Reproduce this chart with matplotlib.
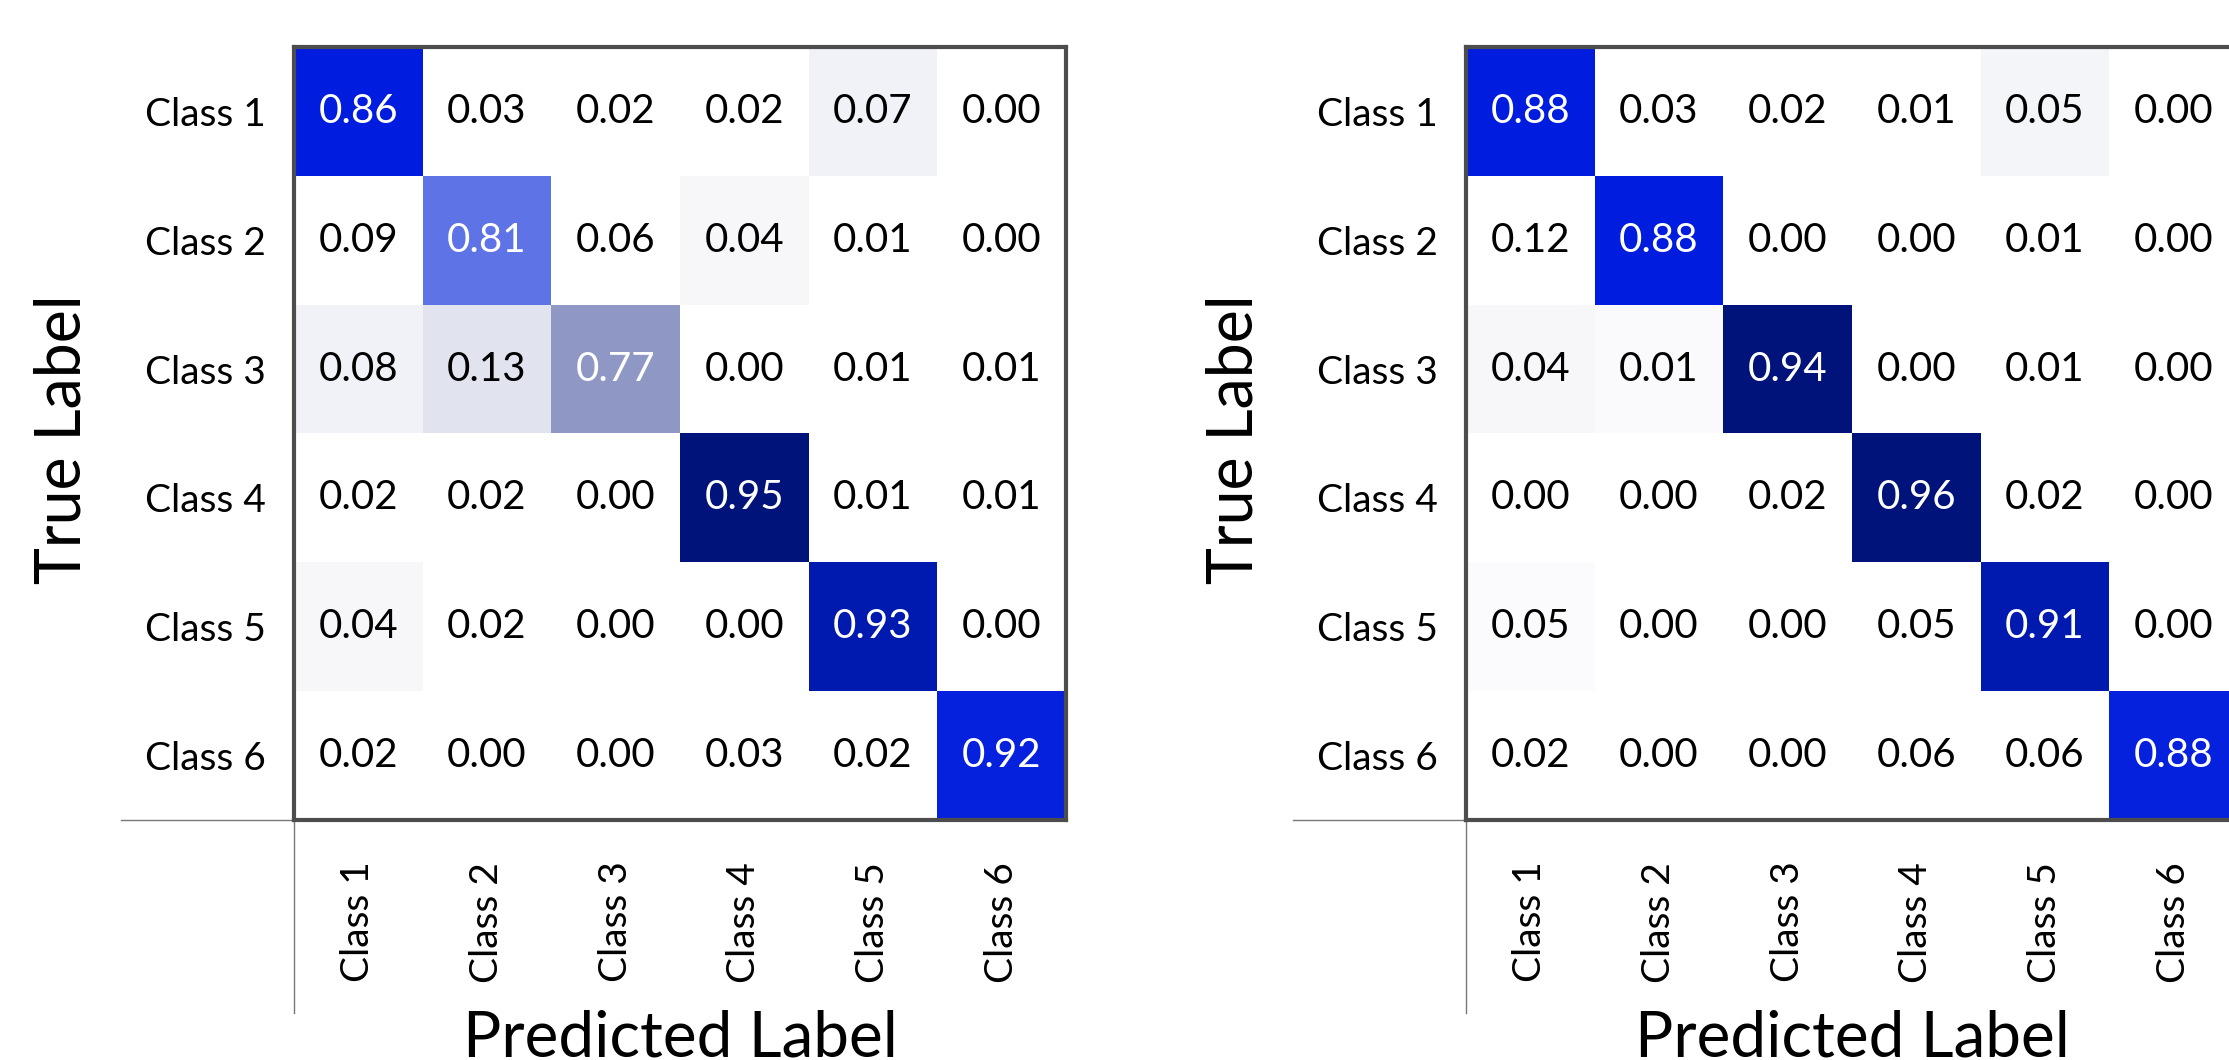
import matplotlib
matplotlib.use("Agg")
import matplotlib.pyplot as plt
from matplotlib.colors import LinearSegmentedColormap
import numpy as np

plt.rcParams["font.family"] = ["Lato", "DejaVu Sans"]

classes = ["Class 1", "Class 2", "Class 3", "Class 4", "Class 5", "Class 6"]

# normalized confusion matrices (rows = true, cols = predicted)
left_values = [
    [0.86, 0.03, 0.02, 0.02, 0.07, 0.00],
    [0.09, 0.81, 0.06, 0.04, 0.01, 0.00],
    [0.08, 0.13, 0.77, 0.00, 0.01, 0.01],
    [0.02, 0.02, 0.00, 0.95, 0.01, 0.01],
    [0.04, 0.02, 0.00, 0.00, 0.93, 0.00],
    [0.02, 0.00, 0.00, 0.03, 0.02, 0.92],
]
right_values = [
    [0.88, 0.03, 0.02, 0.01, 0.05, 0.00],
    [0.12, 0.88, 0.00, 0.00, 0.01, 0.00],
    [0.04, 0.01, 0.94, 0.00, 0.01, 0.00],
    [0.00, 0.00, 0.02, 0.96, 0.02, 0.00],
    [0.05, 0.00, 0.00, 0.05, 0.91, 0.00],
    [0.02, 0.00, 0.00, 0.06, 0.06, 0.88],
]

# cell shading intensity as it appears in the picture (0 = white, 1 = navy)
left_shade = [
    [0.80, 0.00, 0.00, 0.00, 0.10, 0.00],
    [0.00, 0.65, 0.00, 0.06, 0.00, 0.00],
    [0.10, 0.20, 0.50, 0.00, 0.00, 0.00],
    [0.00, 0.00, 0.00, 1.00, 0.00, 0.00],
    [0.06, 0.00, 0.00, 0.00, 0.90, 0.00],
    [0.00, 0.00, 0.00, 0.00, 0.00, 0.79],
]
right_shade = [
    [0.80, 0.00, 0.00, 0.00, 0.08, 0.00],
    [0.00, 0.80, 0.00, 0.00, 0.00, 0.00],
    [0.06, 0.04, 1.00, 0.00, 0.00, 0.00],
    [0.00, 0.00, 0.00, 1.00, 0.00, 0.00],
    [0.03, 0.00, 0.00, 0.00, 0.90, 0.00],
    [0.00, 0.00, 0.00, 0.00, 0.00, 0.79],
]

cmap = LinearSegmentedColormap.from_list(
    "conf_blues",
    [
        (0.00, "#ffffff"),
        (0.10, "#f1f2f7"),
        (0.20, "#e1e3ef"),
        (0.50, "#9098c5"),
        (0.65, "#5f74e6"),
        (0.80, "#001cde"),
        (0.90, "#0019b0"),
        (1.00, "#00137a"),
    ],
)

W, H = 2229, 1060
fig = plt.figure(figsize=(W / 100, H / 100), dpi=100)


def draw_matrix(rect, values, shade):
    ax = fig.add_axes(rect)
    values = np.array(values)
    shade = np.array(shade)
    n = len(classes)
    ax.pcolormesh(np.arange(n + 1), np.arange(n + 1), shade,
                  cmap=cmap, vmin=0, vmax=1)
    ax.set_xlim(0, n)
    ax.set_ylim(n, 0)

    for i in range(n):
        for j in range(n):
            color = "white" if shade[i, j] > 0.4 else "black"
            ax.text(j + 0.5, i + 0.5, f"{values[i, j]:.2f}", ha="center",
                    va="center", fontsize=29, color=color)

    ax.set_xticks(np.arange(n) + 0.5)
    ax.set_yticks(np.arange(n) + 0.5)
    ax.set_xticklabels(classes, rotation=90, fontsize=28)
    ax.set_yticklabels(classes, fontsize=28)
    ax.tick_params(length=0)
    ax.tick_params(axis="y", pad=20)
    ax.tick_params(axis="x", pad=30)

    for sp in ax.spines.values():
        sp.set_linewidth(3)
        sp.set_color("#4d4d4d")
        sp.set_zorder(5)

    # thin guide lines leaving the matrix corner
    ax.plot([-0.224, 0], [0, 0], transform=ax.transAxes, color="#777777",
            lw=1.0, clip_on=False)
    ax.plot([0, 0], [0, -0.25], transform=ax.transAxes, color="#777777",
            lw=1.0, clip_on=False)

    ax.text(-0.3005, 0.492, "True Label", transform=ax.transAxes,
            rotation=90, ha="center", va="center", fontsize=45)
    ax.text(0.5, -0.306, "Predicted Label", transform=ax.transAxes,
            ha="center", va="baseline", fontsize=46)
    return ax


ax_w = 772 / W
ax_h = 773 / H
ax_b = (H - 820) / H
draw_matrix([294 / W, ax_b, ax_w, ax_h], left_values, left_shade)
draw_matrix([1466 / W, ax_b, ax_w, ax_h], right_values, right_shade)

fig.savefig("out.png", dpi=100)
